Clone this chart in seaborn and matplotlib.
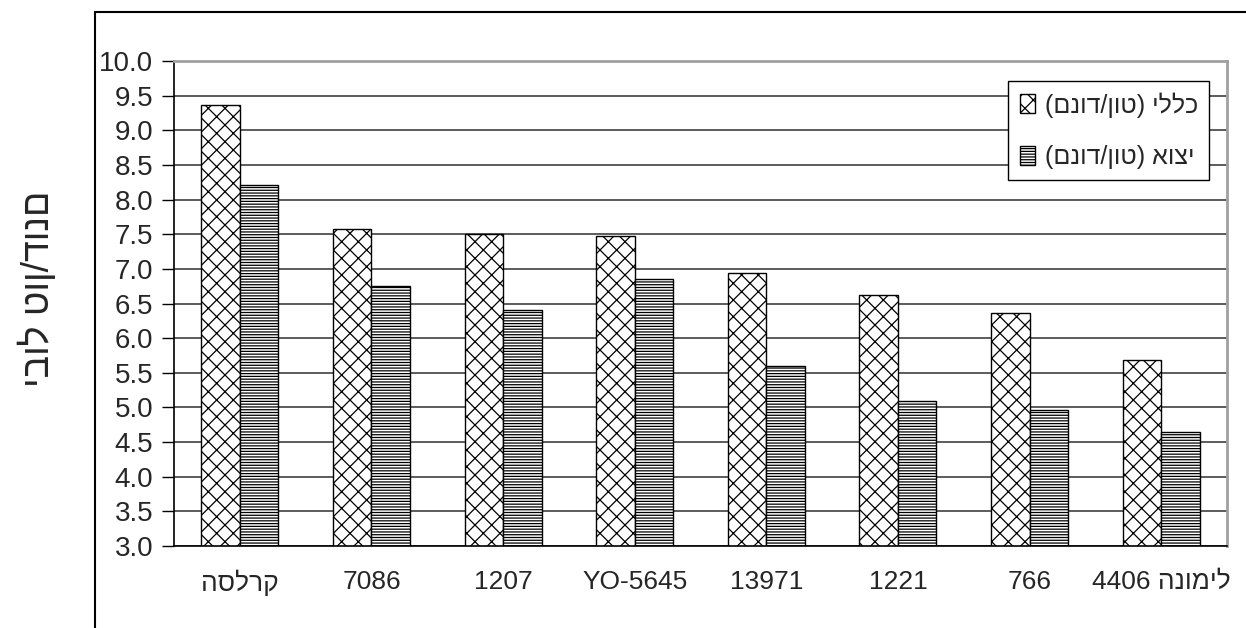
import numpy as np
import pandas as pd
import matplotlib
matplotlib.use('Agg')
import matplotlib.pyplot as plt
from matplotlib.patches import Patch, Rectangle
import seaborn as sns

# data
varieties = ['קרלסה', '7086', '1207', 'YO-5645', '13971', '1221', '766', 'לימונה 4406']
total_yield = [9.37, 7.57, 7.50, 7.47, 6.94, 6.62, 6.37, 5.69]
export_yield = [8.21, 6.75, 6.40, 6.85, 5.60, 5.10, 4.97, 4.64]
series_names = ['כללי (טון/דונם)', 'יצוא (טון/דונם)']
y_label = 'יבול טון/דונם'
y_ticks = np.arange(3.0, 10.01, 0.5)


def rtl(s):
    # matplotlib has no bidi support, so put hebrew words in visual order
    heb = lambda t: any('\u0590' <= c <= '\u05ff' for c in t)
    if not heb(s):
        return s
    mirror = str.maketrans('()', ')(')
    words = []
    for w in reversed(s.split(' ')):
        if heb(w):
            w = w[::-1].translate(mirror)
        words.append(w)
    return ' '.join(words)


df = pd.DataFrame({
    'variety': varieties * 2,
    'kind': [series_names[0]] * len(varieties) + [series_names[1]] * len(varieties),
    'value': total_yield + export_yield,
})

sns.set_style('white')
plt.rcParams['font.family'] = ['Liberation Sans', 'DejaVu Sans']
plt.rcParams['hatch.linewidth'] = 0.9

fig = plt.figure(figsize=(12.46, 6.28), dpi=100)
ax = fig.add_axes([174 / 1246, 1 - 546 / 628, (1227 - 174) / 1246, (546 - 61) / 628])

sns.barplot(data=df, x='variety', y='value', hue='kind', order=varieties,
            hue_order=series_names, palette=['white', 'white'], saturation=1,
            width=0.585, edgecolor='black', linewidth=1.0, legend=False, ax=ax)

hatches = ['xx', '------']
for cont, h in zip(ax.containers, hatches):
    for bar in cont:
        bar.set_hatch(h)

ax.set_ylim(3, 10)
ax.set_yticks(y_ticks)
ax.set_yticklabels(['%.1f' % v for v in y_ticks], fontsize=20)
ax.set_xticks(range(len(varieties)))
ax.set_xticklabels([rtl(v) for v in varieties], fontsize=19)
ax.set_xticks(np.arange(-0.5, len(varieties), 1), minor=True)
ax.set_xlim(-0.5, len(varieties) - 0.5)
ax.set_xlabel('')
ax.set_ylabel('')

ax.tick_params(axis='x', which='major', length=0, pad=17)
ax.tick_params(axis='x', which='minor', length=8, width=1, color='black', direction='out')
ax.tick_params(axis='y', length=9, width=1, color='black', direction='out', pad=6, left=True)

ax.yaxis.grid(True, color='#404040', lw=1.2)
ax.set_axisbelow(True)
for side in ['left', 'bottom']:
    ax.spines[side].set_color('black')
    ax.spines[side].set_linewidth(1.2)
for side in ['top', 'right']:
    ax.spines[side].set_visible(True)
    ax.spines[side].set_color('#a0a0a0')
    ax.spines[side].set_linewidth(2)

handles = [Patch(facecolor='white', edgecolor='black', hatch=h, lw=1) for h in hatches]
leg = ax.legend(handles, [rtl(s) for s in series_names], loc='upper right',
                bbox_to_anchor=(0.983, 0.959), borderaxespad=0, fontsize=18,
                handlelength=0.6, handleheight=0.8, handletextpad=0.4,
                labelspacing=1.1, fancybox=False, framealpha=1,
                edgecolor='black', borderpad=0.45)
leg.get_frame().set_linewidth(1)

# outer chart border
fig.patches.append(Rectangle((95 / 1246, -0.2), 1.5, 0.2 + 1 - 12 / 628,
                             transform=fig.transFigure, fill=False,
                             edgecolor='black', lw=1.5, zorder=0))

fig.text(38 / 1246, 1 - 289 / 628, y_label, rotation=90, fontsize=27,
         ha='center', va='center')

fig.savefig('out.png', dpi=100)
